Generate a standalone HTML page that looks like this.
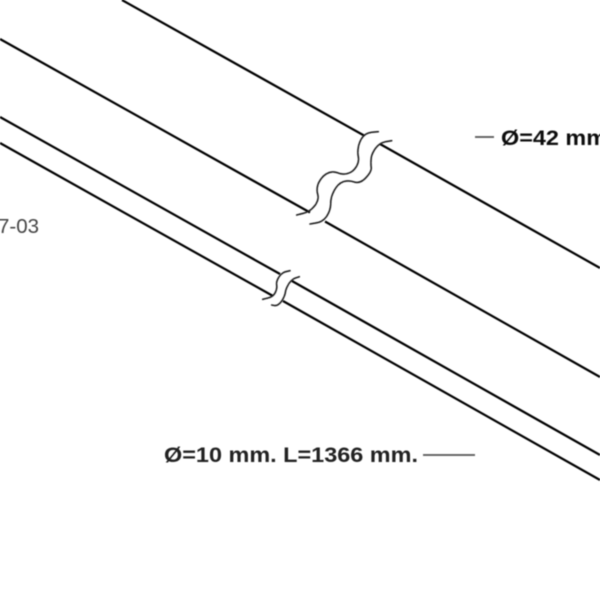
<!DOCTYPE html>
<html>
<head>
<meta charset="utf-8">
<style>
html,body{margin:0;padding:0;background:#fff;width:600px;height:600px;overflow:hidden}
svg{display:block}
text{font-family:"Liberation Sans",sans-serif}
</style>
</head>
<body>
<svg width="600" height="600" viewBox="0 0 600 600" xmlns="http://www.w3.org/2000/svg">
<defs><filter id="b" x="-5%" y="-5%" width="110%" height="110%"><feGaussianBlur stdDeviation="0.4"/></filter></defs>
<rect width="600" height="600" fill="#fff"/>
<g filter="url(#b)">
<g stroke="#000" stroke-width="2.2" fill="none">
<line x1="122" y1="0" x2="364" y2="135.5"/>
<line x1="380" y1="144" x2="600" y2="268"/>
<line x1="0" y1="39" x2="310" y2="212.5"/>
<line x1="325" y1="221.5" x2="600" y2="377"/>
<line x1="0" y1="117" x2="280" y2="274"/>
<line x1="292" y1="281" x2="600" y2="455"/>
<line x1="0" y1="143" x2="273" y2="296"/>
<line x1="283" y1="301" x2="600" y2="480"/>
</g>
<g stroke="#222" stroke-width="1.6" fill="none" stroke-linecap="round" stroke-dasharray="6 0.8">
<path d="M378.3,131.7 L372.5,132.2 Q366.7,132.7 363.3,136.3 Q360,140 358.6,145.8 Q357.3,151.7 358.3,156.7 Q359.3,161.7 356.3,166.7 Q353.3,171.7 348.3,173.3 Q343.3,175 337.5,172.8 Q331.7,170.7 326.7,173.7 Q321.7,176.7 318.8,182.5 Q316,188.3 317.7,194.2 Q319.3,200 314.7,205.8 Q310,211.7 303.3,213.3 L296.7,215"/>
<path d="M391.7,140.7 L385.8,141.7 Q380,142.7 375.8,148 Q371.7,153.3 371.2,158.3 Q370.7,163.3 371.2,167.5 Q371.7,171.7 365.8,177.8 Q360,184 354.2,182 Q348.3,180 343.3,181.7 Q338.3,183.3 334.5,190 Q330.7,196.7 330.7,203.3 Q330.7,210 327,215.8 Q323.3,221.7 316.7,222.8 L310,224"/>
<path d="M290,270.7 L285.8,271.7 Q281.7,272.7 278.8,277.2 Q276,281.7 276.7,285 Q277.3,288.3 275.3,292.5 Q273.3,296.7 268,298 L262.7,299.3"/>
<path d="M299.3,276.7 L295.5,278 Q291.7,279.3 288.8,283.8 Q286,288.3 285.5,291.7 Q285,295 283.3,298.3 Q281.7,301.7 279.2,303.8 Q276.7,306 274.2,305.5 L271.7,305"/>
</g>
<g stroke="#555" stroke-width="1.7">
<line x1="475" y1="137" x2="494" y2="137"/>
<line x1="423" y1="455" x2="475" y2="455"/>
</g>
<text x="501" y="145" font-size="21" font-weight="bold" fill="#111" textLength="106" lengthAdjust="spacingAndGlyphs">Ø=42 mm</text>
<text x="164" y="462" font-size="21" font-weight="bold" fill="#222" textLength="254" lengthAdjust="spacingAndGlyphs">Ø=10 mm. L=1366 mm.</text>
<text x="-2" y="233" font-size="20.5" fill="#444">7-03</text>
</g>
</svg>
</body>
</html>
